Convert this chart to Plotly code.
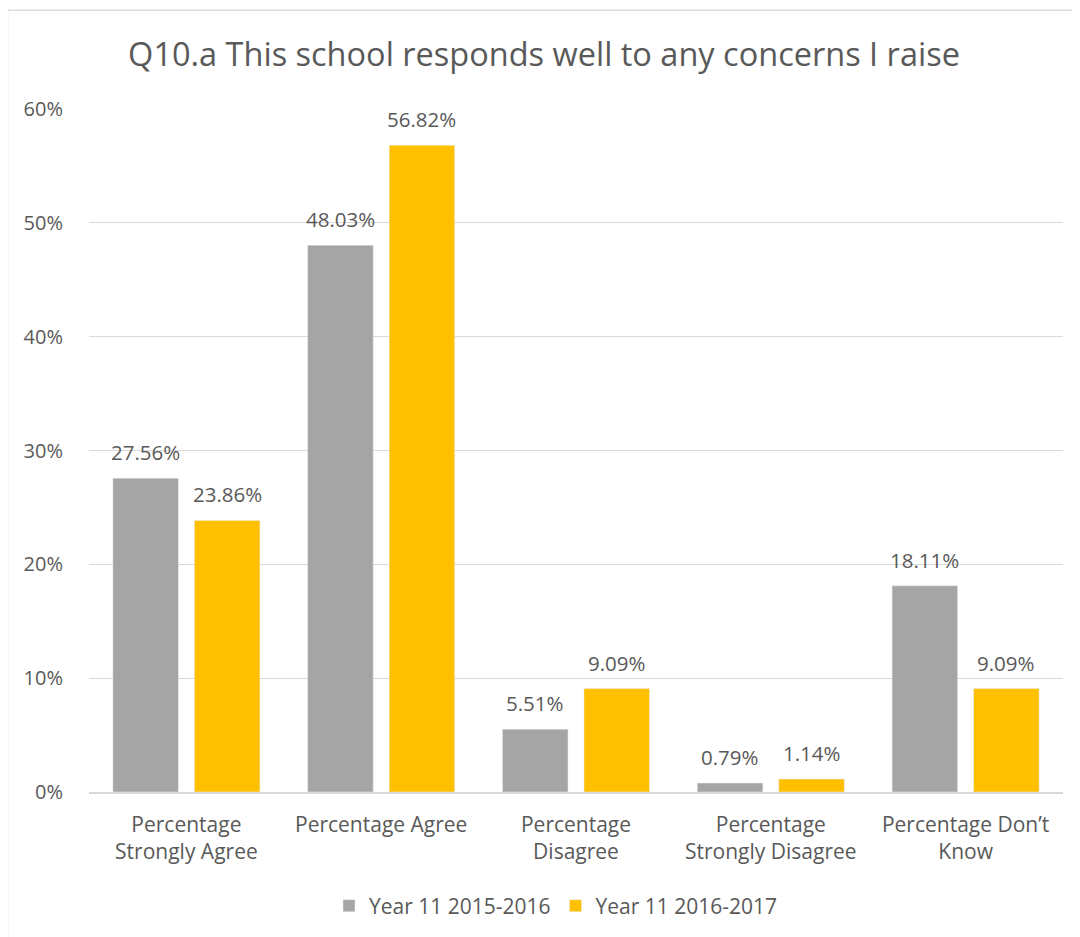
import plotly.graph_objects as go

categories = ["Percentage<br>Strongly Agree", "Percentage Agree", "Percentage<br>Disagree",
              "Percentage<br>Strongly Disagree", "Percentage Don’t<br>Know"]
series_2015 = [27.56, 48.03, 5.51, 0.79, 18.11]
series_2016 = [23.86, 56.82, 9.09, 1.14, 9.09]
series_names = ["Year 11 2015-2016", "Year 11 2016-2017"]
y_ticks = [0, 10, 20, 30, 40, 50, 60]

TXT = "#595959"
FONT = "Open Sans, Carlito, Calibri, sans-serif"
FS = 21

W, H = 1072, 929  # page body has an 8px margin
L, T = 81, 101
R, B = 17, 144
PH = H - T - B
PW = W - L - R
BARGAP, GROUPGAP = 0.163, 0.196
slot = PW / len(categories) * (1 - BARGAP) / 2

fig = go.Figure()
fig.add_trace(go.Bar(x=categories, y=[v / 100 for v in series_2015], name=series_names[0],
                     marker_color="#a5a5a5"))
fig.add_trace(go.Bar(x=categories, y=[v / 100 for v in series_2016], name=series_names[1],
                     marker_color="#ffc000"))

annotations = []
for series, shift in ((series_2015, -slot / 2), (series_2016, slot / 2)):
    for cat, v in zip(categories, series):
        annotations.append(dict(x=cat, y=v / 100, xref="x", yref="y", text=f"{v:.2f}%",
                                showarrow=False, xshift=shift, yshift=26,
                                xanchor="center", yanchor="middle",
                                font=dict(size=FS - 0.5, color=TXT)))

fig.update_layout(
    width=W, height=H,
    margin=dict(l=L, r=R, t=T, b=B),
    paper_bgcolor="white", plot_bgcolor="white",
    font=dict(family=FONT, color=TXT, size=FS),
    title=dict(text="Q10.a This school responds well to any concerns I raise",
               x=0.5, xanchor="center", y=1 - 47 / H, yanchor="middle",
               font=dict(size=32.5, color=TXT)),
    barmode="group", bargap=BARGAP, bargroupgap=GROUPGAP,
    legend=dict(orientation="h", x=(548 - L) / PW, xanchor="center", y=(785 - 898) / PH,
                yanchor="middle", font=dict(size=FS, color=TXT), itemwidth=30),
    showlegend=True,
    annotations=annotations,
    xaxis=dict(showline=True, linecolor="#d9d9d9", linewidth=1.5, ticks="",
               tickfont=dict(size=FS, color=TXT), showgrid=False, ticklabelstandoff=13),
    yaxis=dict(range=[0, 0.6], tickvals=[t / 100 for t in y_ticks],
               ticktext=[f"{t}%" for t in y_ticks], showgrid=True, gridcolor="#d9d9d9",
               gridwidth=1.3, zeroline=False, ticks="outside", ticklen=21,
               tickcolor="rgba(0,0,0,0)", tickfont=dict(size=FS - 1, color=TXT)),
    shapes=[dict(type="rect", xref="paper", yref="paper",
                 x0=(-0.5 - L) / PW, x1=1.2, y0=-0.4, y1=(785 - 2) / PH,
                 line=dict(color="#d9d9d9", width=1.5), fillcolor="rgba(0,0,0,0)",
                 layer="below")],
)

fig.write_html("out.html")
